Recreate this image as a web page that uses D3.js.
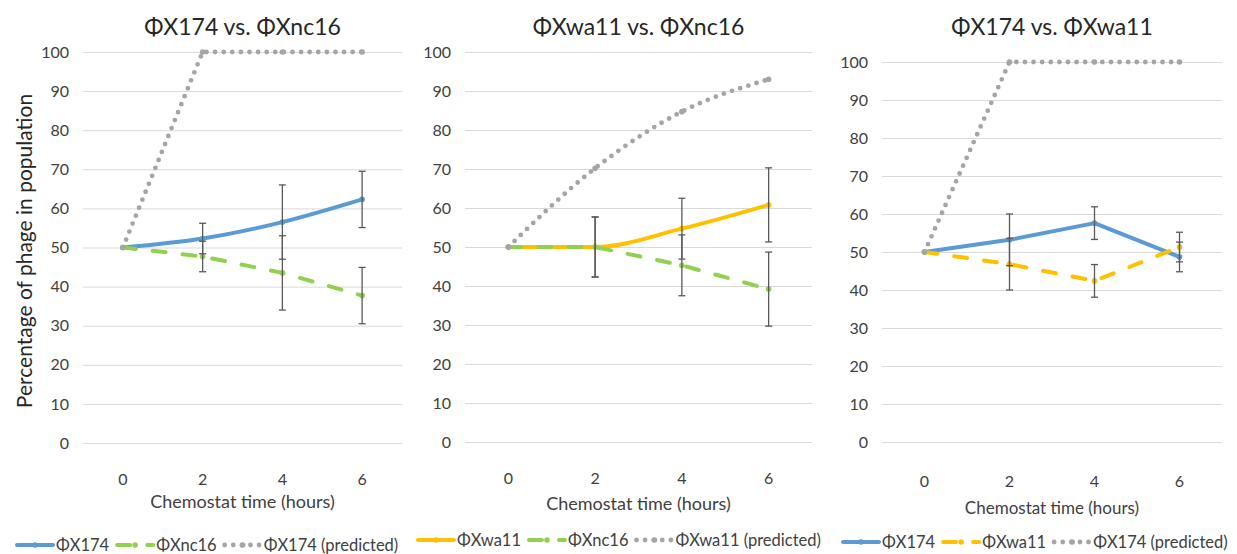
<!DOCTYPE html>
<html>
<head>
<meta charset="utf-8">
<script src="https://cdn.jsdelivr.net/npm/d3@7"></script>
<style>
  body { margin: 0; background: #fff; }
  text { font-family: Lato, "Open Sans", sans-serif; fill: #404040; }
</style>
</head>
<body>
<div id="chart"></div>
<script>
// data
var hours = ["0", "2", "4", "6"];
var yTicks = [0, 10, 20, 30, 40, 50, 60, 70, 80, 90, 100];

var p1X174 = [50, 52.3, 56.5, 62.3];
var p1Nc16 = [50, 47.7, 43.5, 37.7];
var p1X174Pred = [50, 100, 100, 100];
var p1Err = [0, 3.9, 9.5, 7.2];

var p2Wa11 = [50, 50, 54.7, 60.8];
var p2Nc16 = [50, 50, 45.3, 39.2];
var p2Wa11Pred = [50, 70.2, 84.7, 93];
var p2Err = [0, 7.7, 7.8, 9.5];

var p3X174 = [50, 53.2, 57.6, 48.7];
var p3Wa11 = [50, 46.8, 42.4, 51.3];
var p3X174Pred = [50, 100, 100, 100];
var p3Err = [0, 6.8, 4.3, 3.9];

var blue = "#5b9bd5", green = "#92d050", orange = "#ffc000", grey = "#a5a5a5";

var styles = {
    solid: { dash: null, width: 4 },
    dash: { dash: "13 17", width: 4 },
    dot: { dash: "0 8.6", width: 4.8 }
};

// panel layout
var panels = [
    {
        title: "ΦX174 vs. ΦXnc16", left: 83, right: 402, top: 52, bottom: 443,
        titleY: 27, tickY: 479, xTitleY: 502, xTitleSize: 18, legendX: 17, legendY: 545,
        series: [
            { name: "ΦX174", values: p1X174, color: blue, style: "solid", smooth: true, err: p1Err },
            { name: "ΦXnc16", values: p1Nc16, color: green, style: "dash", smooth: false, err: p1Err },
            { name: "ΦX174 (predicted)", values: p1X174Pred, color: grey, style: "dot", smooth: false }
        ]
    },
    {
        title: "ΦXwa11 vs. ΦXnc16", left: 465, right: 812, top: 52, bottom: 442,
        titleY: 27, tickY: 478, xTitleY: 504, xTitleSize: 18, legendX: 418, legendY: 540,
        series: [
            { name: "ΦXwa11", values: p2Wa11, color: orange, style: "solid", smooth: true, err: p2Err },
            { name: "ΦXnc16", values: p2Nc16, color: green, style: "dash", smooth: false, err: p2Err },
            { name: "ΦXwa11 (predicted)", values: p2Wa11Pred, color: grey, style: "dot", smooth: true }
        ]
    },
    {
        title: "ΦX174 vs. ΦXwa11", left: 882, right: 1222, top: 62, bottom: 442,
        titleY: 27, tickY: 481, xTitleY: 508, xTitleSize: 17, legendX: 843, legendY: 542,
        series: [
            { name: "ΦX174", values: p3X174, color: blue, style: "solid", smooth: false, err: p3Err },
            { name: "ΦXwa11", values: p3Wa11, color: orange, style: "dash", smooth: false, err: p3Err },
            { name: "ΦX174 (predicted)", values: p3X174Pred, color: grey, style: "dot", smooth: false }
        ]
    }
];

var svg = d3.select("#chart")
    .append("svg")
    .attr("width", 1237)
    .attr("height", 554);

// shared y label
svg.append("text")
    .attr("transform", "translate(25,251) rotate(-90)")
    .attr("text-anchor", "middle")
    .attr("dy", "0.35em")
    .style("font-size", "21px")
    .style("fill", "#262626")
    .text("Percentage of phage in population");

panels.forEach(function (p) {
    var g = svg.append("g");

    var x = d3.scaleBand()
        .domain(hours)
        .range([p.left, p.right]);

    var y = d3.scaleLinear()
        .domain([0, 100])
        .range([p.bottom, p.top]);

    // gridlines + y tick labels
    var yAxis = g.append("g")
        .attr("transform", "translate(" + p.left + ",0)")
        .call(d3.axisLeft(y).tickValues(yTicks).tickSize(-(p.right - p.left)).tickPadding(14));
    yAxis.select(".domain").remove();
    yAxis.selectAll(".tick line").attr("stroke", "#d9d9d9").attr("stroke-width", 1);
    yAxis.selectAll(".tick text")
        .style("font-size", "16px")
        .style("font-family", "Lato, sans-serif")
        .style("fill", "#404040");

    // x tick labels
    var xAxis = g.append("g")
        .attr("transform", "translate(0," + (p.tickY - 10) + ")")
        .call(d3.axisBottom(x).tickSize(0).tickPadding(0));
    xAxis.select(".domain").remove();
    xAxis.selectAll(".tick text")
        .attr("dy", "0.35em")
        .attr("y", 10)
        .style("font-size", "16px")
        .style("font-family", "Lato, sans-serif")
        .style("fill", "#404040");

    g.append("text")
        .attr("x", (p.left + p.right) / 2)
        .attr("y", p.xTitleY)
        .attr("dy", "0.35em")
        .attr("text-anchor", "middle")
        .style("font-size", p.xTitleSize + "px")
        .text("Chemostat time (hours)");

    g.append("text")
        .attr("x", (p.left + p.right) / 2)
        .attr("y", p.titleY)
        .attr("dy", "0.35em")
        .attr("text-anchor", "middle")
        .style("font-size", "23px")
        .style("fill", "#262626")
        .text(p.title);

    var cx = function (d, i) { return x(hours[i]) + x.bandwidth() / 2; };

    // lines
    p.series.forEach(function (s) {
        var st = styles[s.style];
        var line = d3.line()
            .x(cx)
            .y(function (d) { return y(d); })
            .curve(s.smooth ? d3.curveMonotoneX : d3.curveLinear);
        g.append("path")
            .datum(s.values)
            .attr("fill", "none")
            .attr("stroke", s.color)
            .attr("stroke-width", st.width)
            .attr("stroke-linecap", "round")
            .attr("stroke-linejoin", "round")
            .attr("stroke-dasharray", st.dash)
            .attr("d", line);
        g.selectAll(null)
            .data(s.values)
            .enter()
            .append("circle")
            .attr("cx", cx)
            .attr("cy", function (d) { return y(d); })
            .attr("r", 2.8)
            .attr("fill", s.color);
    });

    // error bars
    p.series.forEach(function (s) {
        if (!s.err) return;
        s.values.forEach(function (v, i) {
            var e = s.err[i];
            if (!e) return;
            var xx = cx(v, i);
            var eg = g.append("g")
                .attr("stroke", "#595959")
                .attr("stroke-width", 1.3);
            eg.append("line")
                .attr("x1", xx).attr("x2", xx)
                .attr("y1", y(v - e)).attr("y2", y(v + e));
            [v - e, v + e].forEach(function (t) {
                eg.append("line")
                    .attr("x1", xx - 3.5).attr("x2", xx + 3.5)
                    .attr("y1", y(t)).attr("y2", y(t));
            });
        });
    });

    // legend
    var lx = p.legendX;
    p.series.forEach(function (s) {
        var st = styles[s.style];
        var lg = g.append("g");
        lg.append("line")
            .attr("x1", lx).attr("x2", lx + 36)
            .attr("y1", p.legendY).attr("y2", p.legendY)
            .attr("stroke", s.color)
            .attr("stroke-width", st.width)
            .attr("stroke-linecap", "round")
            .attr("stroke-dasharray", st.dash);
        lg.append("circle")
            .attr("cx", lx + 18)
            .attr("cy", p.legendY)
            .attr("r", 2.8)
            .attr("fill", s.color);
        var t = lg.append("text")
            .attr("x", lx + 39)
            .attr("y", p.legendY)
            .attr("dy", "0.35em")
            .style("font-size", "16.5px")
            .text(s.name);
        lx = lx + 39 + t.node().getComputedTextLength() + 8;
    });
});
</script>
</body>
</html>
